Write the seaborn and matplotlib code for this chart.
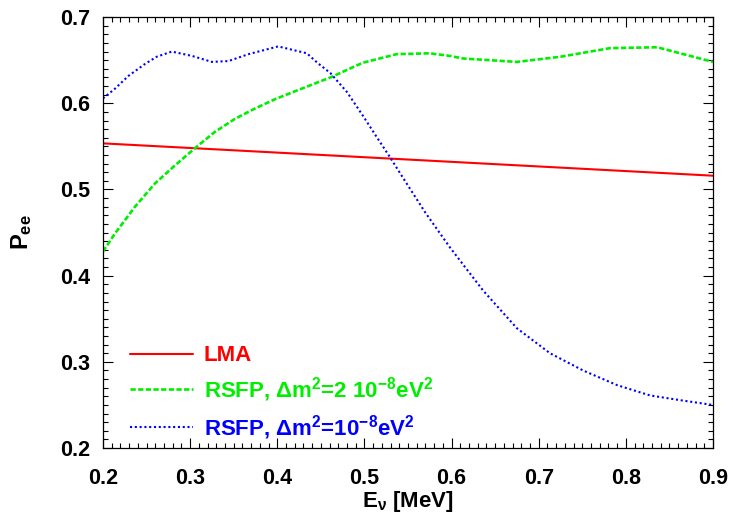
import numpy as np
import pandas as pd
import matplotlib
matplotlib.use("Agg")
import matplotlib.pyplot as plt
import seaborn as sns
from matplotlib.ticker import MultipleLocator

# LMA
lma_x = [0.2, 0.9]
lma_y = [0.5535, 0.516]

# RSFP, dm2 = 2e-8
g_x = [0.2, 0.2138, 0.2367, 0.2597, 0.2827, 0.3056, 0.3286, 0.3515, 0.3745, 0.398,
       0.423, 0.461, 0.498, 0.537, 0.575, 0.598, 0.613, 0.675, 0.725, 0.782, 0.836, 0.9]
g_y = [0.428, 0.449, 0.480, 0.507, 0.528, 0.548, 0.567, 0.582, 0.594, 0.605,
       0.615, 0.630, 0.647, 0.657, 0.658, 0.655, 0.652, 0.648, 0.654, 0.664, 0.665, 0.648]

# RSFP, dm2 = 1e-8
b_x = [0.2, 0.2138, 0.229, 0.248, 0.2616, 0.279, 0.302, 0.325, 0.344, 0.367, 0.401,
       0.434, 0.446, 0.461, 0.480, 0.498, 0.514, 0.529, 0.544, 0.570, 0.598, 0.636,
       0.675, 0.713, 0.751, 0.790, 0.828, 0.866, 0.9]
b_y = [0.6057, 0.617, 0.6316, 0.6455, 0.654, 0.660, 0.655, 0.648, 0.649, 0.657, 0.666,
       0.658, 0.647, 0.635, 0.613, 0.586, 0.561, 0.538, 0.514, 0.473, 0.433, 0.383,
       0.339, 0.310, 0.290, 0.273, 0.261, 0.255, 0.250]

sns.set_style("ticks")
plt.rcParams['font.family'] = ['Liberation Sans', 'DejaVu Sans']
plt.rcParams['font.weight'] = 'bold'
plt.rcParams['axes.labelweight'] = 'bold'
plt.rcParams['text.color'] = 'black'
plt.rcParams['axes.labelcolor'] = 'black'
plt.rcParams['xtick.color'] = 'black'
plt.rcParams['ytick.color'] = 'black'
plt.rcParams['mathtext.fontset'] = 'custom'
plt.rcParams['mathtext.rm'] = 'Liberation Sans:bold'
plt.rcParams['mathtext.it'] = 'Liberation Sans:bold'
plt.rcParams['mathtext.bf'] = 'Liberation Sans:bold'
plt.rcParams['mathtext.sf'] = 'Liberation Sans:bold'
plt.rcParams['mathtext.default'] = 'bf'

fig = plt.figure(figsize=(7.33, 5.18), dpi=100)
ax = fig.add_axes([0.1405, 0.135, 0.8322, 0.832])

df_l = pd.DataFrame({"x": lma_x, "y": lma_y})
df_g = pd.DataFrame({"x": g_x, "y": g_y})
df_b = pd.DataFrame({"x": b_x, "y": b_y})

sns.lineplot(data=df_l, x="x", y="y", ax=ax, color="#ff0000", lw=1.5,
             label="LMA", sort=True)
sns.lineplot(data=df_g, x="x", y="y", ax=ax, color="#00ee00", lw=1.9,
             label=r"RSFP, $\Delta$m$^{2}$=2 10$^{-8}$eV$^{2}$", sort=True)
sns.lineplot(data=df_b, x="x", y="y", ax=ax, color="#0000ff", lw=1.5,
             label=r"RSFP, $\Delta$m$^{2}$=10$^{-8}$eV$^{2}$", sort=True)
lines = ax.get_lines()
lines[1].set_dashes([2.0, 0.9])
lines[2].set_dashes([1.0, 1.3])

ax.set_xlim(0.2, 0.9)
ax.set_ylim(0.2, 0.7)
ax.xaxis.set_major_locator(MultipleLocator(0.1))
ax.xaxis.set_minor_locator(MultipleLocator(0.01))
ax.yaxis.set_major_locator(MultipleLocator(0.1))
ax.yaxis.set_minor_locator(MultipleLocator(0.01))
ax.tick_params(which='both', direction='in', top=True, right=True, width=0.8)
ax.tick_params(which='major', length=7, labelsize=15.5)
ax.tick_params(axis='y', which='major', pad=9)
ax.tick_params(axis='x', which='major', pad=14)
ax.tick_params(which='minor', length=3.5)
for s in ax.spines.values():
    s.set_linewidth(0.9)
    s.set_color('black')

ax.set_xlabel(r"E$_{\nu}$ [MeV]", fontsize=16, fontweight='bold', labelpad=0)
ax.set_ylabel(r"P$_{ee}$", fontsize=17, fontweight='bold', labelpad=19)

leg = ax.legend(loc='lower left', bbox_to_anchor=(0.012, -0.032), frameon=False,
                fontsize=16, handlelength=2.8, labelspacing=0.4,
                handletextpad=0.5, labelcolor='linecolor')
for t in leg.get_texts():
    t.set_fontweight('bold')

fig.savefig("out.png", dpi=100)
